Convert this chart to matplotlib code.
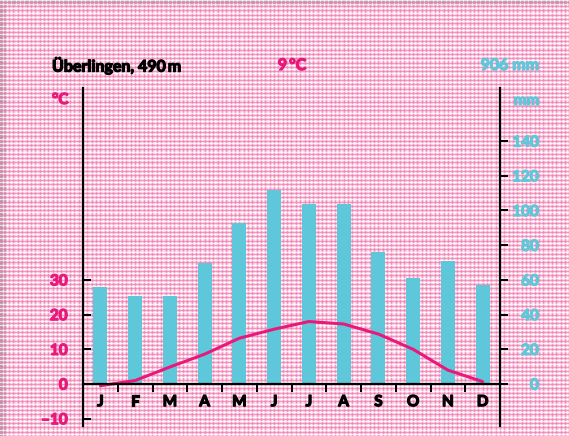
import numpy as np
import matplotlib.pyplot as plt
import matplotlib.patheffects as pe
from matplotlib.patches import Rectangle

# climate data for Überlingen
months = ['J', 'F', 'M', 'A', 'M', 'J', 'J', 'A', 'S', 'O', 'N', 'D']
precip = [56, 51, 51, 70, 93, 112, 104, 104, 76, 61, 71, 57]   # mm
temp = [-0.5, 1.0, 4.9, 8.6, 13.2, 15.8, 18.0, 17.3, 14.4, 10.0, 4.0, 0.7]   # °C
temp_ticks = [-10, 0, 10, 20, 30]
temp_labels = ['\u201310', '0', '10', '20', '30']
precip_ticks = [0, 20, 40, 60, 80, 100, 120, 140]

station = 'Überlingen, 490\u2009m'
mean_temp = '9\u2009°C'
total_precip = '906 mm'

pink = '#e8197a'
blue = '#5ec8da'
font = 'Lato'
weight = 'bold'


def thick(color):
    # fake a heavier weight with a thin outline in the text colour
    return [pe.withStroke(linewidth=0.9, foreground=color)]


W, H = 569, 436
fig = plt.figure(figsize=(W / 100, H / 100), dpi=100)

# checkered pink background
bg = fig.add_axes([0, 0, 1, 1], zorder=-10)
bg.set_xlim(0, W)
bg.set_ylim(H, 0)
bg.axis('off')
bg.add_patch(Rectangle((0, 0), W, H, color='#fcd8e7'))
step = 34.75 / 8
for x in np.arange(83 % step - step, W + step, step):
    bg.axvline(x, color='#f17db2', lw=1.0, alpha=0.75)
    bg.axvline(x + step / 2, color='white', lw=1.0, alpha=0.7)
for y in np.arange(384 % step - step, H + step, step):
    bg.axhline(y, color='#f17db2', lw=1.0, alpha=0.75)
    bg.axhline(y + step / 2, color='white', lw=1.0, alpha=0.7)
bg.add_patch(Rectangle((0, 0), W, 4, color='#9a9a9a'))
bg.add_patch(Rectangle((0, 0), 5, H, color='#9a9a9a'))

# main axes
left, right, top, bottom = 83, 500, 88, 426
ax = fig.add_axes([left / W, 1 - bottom / H, (right - left) / W, (bottom - top) / H])
ax2 = ax.twinx()
ax.set_zorder(ax2.get_zorder() + 1)
ax.patch.set_visible(False)
ax2.patch.set_visible(False)

x = np.arange(12) + 0.5
ax2.bar(x, precip, width=0.41, color=blue)
ax.plot(x, temp, color=pink, lw=2.2, solid_capstyle='round')

ax.set_xlim(0, 12)
ax.set_ylim(-12.1, 85.3)
ax2.set_ylim(-24.2, 170.6)

for a in (ax, ax2):
    for s in a.spines.values():
        s.set_visible(False)
ax.spines['left'].set_visible(True)
ax.spines['left'].set_linewidth(1.6)
ax.spines['bottom'].set_visible(True)
ax.spines['bottom'].set_position(('data', 0))
ax.spines['bottom'].set_linewidth(1.6)
ax2.spines['right'].set_visible(True)
ax2.spines['right'].set_linewidth(1.6)

# left temperature axis
ax.set_yticks(temp_ticks)
ax.set_yticklabels(temp_labels)
ax.tick_params(axis='y', direction='in', length=5.5, width=1.4, pad=11,
               labelcolor=pink, labelsize=11)
# right precipitation axis
ax2.set_yticks(precip_ticks)
ax2.tick_params(axis='y', direction='out', length=6, width=1.4, pad=22,
                labelcolor=blue, labelsize=11)
for lab in ax2.get_yticklabels():
    lab.set_horizontalalignment('right')

# months
ax.set_xticks(x)
ax.set_xticklabels(months)
ax.set_xticks(np.arange(1, 12), minor=True)
ax.tick_params(axis='x', which='major', length=0, pad=8, labelsize=11)
ax.tick_params(axis='x', which='minor', direction='out', length=6, width=1.4)

for lab in ax.get_xticklabels():
    lab.set_path_effects(thick('black'))
for lab in ax.get_yticklabels():
    lab.set_path_effects(thick(pink))
for lab in ax2.get_yticklabels():
    lab.set_path_effects(thick(blue))
for lab in ax.get_xticklabels() + ax.get_yticklabels() + ax2.get_yticklabels():
    lab.set_fontfamily(font)
    lab.set_fontweight(weight)

# header texts
fig.text(52 / W, 1 - 66 / H, station, fontsize=11.5, fontweight=weight,
         family=[font, 'DejaVu Sans'], va='center', ha='left',
         path_effects=thick('black'))
fig.text(292 / W, 1 - 66 / H, mean_temp, fontsize=11.5, fontweight=weight,
         family=[font, 'DejaVu Sans'], va='center', ha='center', color=pink,
         path_effects=thick(pink))
fig.text(539 / W, 1 - 66 / H, total_precip, fontsize=11.5, fontweight=weight,
         family=font, va='center', ha='right', color=blue,
         path_effects=thick(blue))
fig.text(52 / W, 1 - 100 / H, '°C', fontsize=11, fontweight=weight,
         family=font, va='center', ha='left', color=pink,
         path_effects=thick(pink))
fig.text(539 / W, 1 - 101 / H, 'mm', fontsize=11, fontweight=weight,
         family=font, va='center', ha='right', color=blue,
         path_effects=thick(blue))

fig.savefig('out.png', dpi=100)
